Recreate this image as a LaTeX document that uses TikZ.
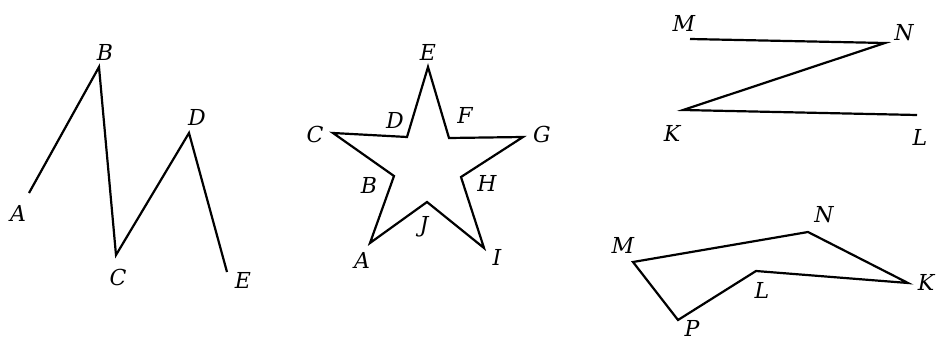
\documentclass[tikz,border=0pt]{standalone}
\usepackage{fontspec}
\newfontfamily\labfont{DejaVu Serif}
\begin{document}
\begin{tikzpicture}[x=1pt,y=-1pt,
  seg/.style={line width=2.2pt,line join=miter,line cap=butt},
  lab/.style={font=\fontsize{22}{24}\selectfont\labfont\itshape,inner sep=0pt}]
\useasboundingbox (0,0) rectangle (937,342);
% Figure 1
\coordinate (a1) at (29,193);
\coordinate (b1) at (99,67);
\coordinate (c1) at (116,255);
\coordinate (d1) at (189,133);
\coordinate (e1) at (227,272);
\draw[seg] (a1) -- (b1) -- (c1) -- (d1) -- (e1);
\node[lab] (la1) at (18,213) {A};
\node[lab] (lb1) at (105,52) {B};
\node[lab] (lc1) at (118,277) {C};
\node[lab] (ld1) at (197,117) {D};
\node[lab] (le1) at (243,280) {E};
% Figure 2: star
\coordinate (sE) at (428,67);
\coordinate (sF) at (449,138);
\coordinate (sG) at (523,137);
\coordinate (sH) at (461,177);
\coordinate (sI) at (484,248);
\coordinate (sJ) at (427,202);
\coordinate (sA) at (370,243);
\coordinate (sB) at (394,176);
\coordinate (sC) at (333,133);
\coordinate (sD) at (407,137);
\draw[seg] (sE) -- (sF) -- (sG) -- (sH) -- (sI) -- (sJ) -- (sA) -- (sB) -- (sC) -- (sD) -- cycle;
\node[lab] (lsE) at (428,52) {E};
\node[lab] (lsF) at (465,115) {F};
\node[lab] (lsG) at (542,134) {G};
\node[lab] (lsH) at (487,183) {H};
\node[lab] (lsI) at (497,257) {I};
\node[lab] (lsJ) at (424,227) {J};
\node[lab] (lsA) at (362,260) {A};
\node[lab] (lsB) at (369,185) {B};
\node[lab] (lsC) at (315,134) {C};
\node[lab] (lsD) at (395,120) {D};
% Figure 3: Z
\coordinate (zM) at (690,39);
\coordinate (zN) at (885,43);
\coordinate (zK) at (683,110);
\coordinate (zL) at (917,115);
\draw[seg] (zM) -- (zN) -- (zK) -- (zL);
\node[lab] (lzM) at (684,23) {M};
\node[lab] (lzN) at (904,33) {N};
\node[lab] (lzK) at (672,133) {K};
\node[lab] (lzL) at (920,137) {L};
% Figure 4: polygon
\coordinate (pM) at (633,262);
\coordinate (pN) at (808,232);
\coordinate (pK) at (908,283);
\coordinate (pL) at (756,271);
\coordinate (pP) at (678,320);
\draw[seg] (pM) -- (pN) -- (pK) -- (pL) -- (pP) -- cycle;
\node[lab] (lpM) at (623,245) {M};
\node[lab] (lpN) at (824,215) {N};
\node[lab] (lpK) at (926,282) {K};
\node[lab] (lpL) at (762,290) {L};
\node[lab] (lpP) at (692,328) {P};
\end{tikzpicture}
\end{document}
